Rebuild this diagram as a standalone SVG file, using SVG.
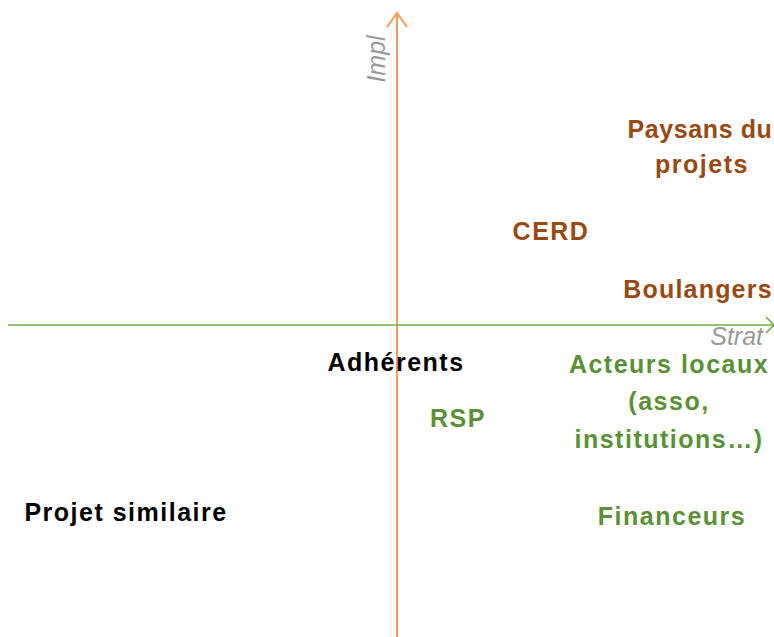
<svg xmlns="http://www.w3.org/2000/svg" width="774" height="637" viewBox="0 0 774 637">
<style>
.lbl{font-family:"Liberation Sans",Arial,sans-serif;font-weight:bold;font-size:25px;letter-spacing:1.5px;text-anchor:middle}
.brown{fill:#984a12}
.green{fill:#5a9136}
.black{fill:#000}
.axl{font-family:"Liberation Sans",Arial,sans-serif;font-style:italic;font-size:25px;fill:#999}
</style>
<rect width="774" height="637" fill="#fff"/>
<g id="axes">
<line x1="397" y1="637" x2="397" y2="13" stroke="#f79b57" stroke-width="2"/>
<polyline points="387,27 397,13 407,27" fill="none" stroke="#f79b57" stroke-width="2"/>
<line x1="8" y1="325" x2="773" y2="325" stroke="#6fb047" stroke-width="1.6"/>
<polyline points="766,317 774,325 766,333" fill="none" stroke="#6fb047" stroke-width="1.6"/>
<text class="axl" transform="translate(385,59) rotate(-90)" text-anchor="middle">Impl</text>
<text class="axl" x="763" y="345" text-anchor="end">Strat</text>
</g>
<g id="paysans"><text class="lbl brown" x="700" y="138" style="letter-spacing:0.6px">Paysans du</text><text class="lbl brown" x="702" y="173">projets</text></g>
<g id="cerd"><text class="lbl brown" x="551" y="240">CERD</text></g>
<g id="boulangers"><text class="lbl brown" x="698" y="298" style="letter-spacing:1.2px">Boulangers</text></g>
<g id="adherents"><text class="lbl black" x="396" y="371">Adhérents</text></g>
<g id="rsp"><text class="lbl green" x="458" y="427">RSP</text></g>
<g id="acteurs"><text class="lbl green" x="669" y="373">Acteurs locaux</text><text class="lbl green" x="669" y="410">(asso,</text><text class="lbl green" x="669" y="448">institutions…)</text></g>
<g id="projet"><text class="lbl black" x="126" y="521">Projet similaire</text></g>
<g id="financeurs"><text class="lbl green" x="672" y="525">Financeurs</text></g>
</svg>
